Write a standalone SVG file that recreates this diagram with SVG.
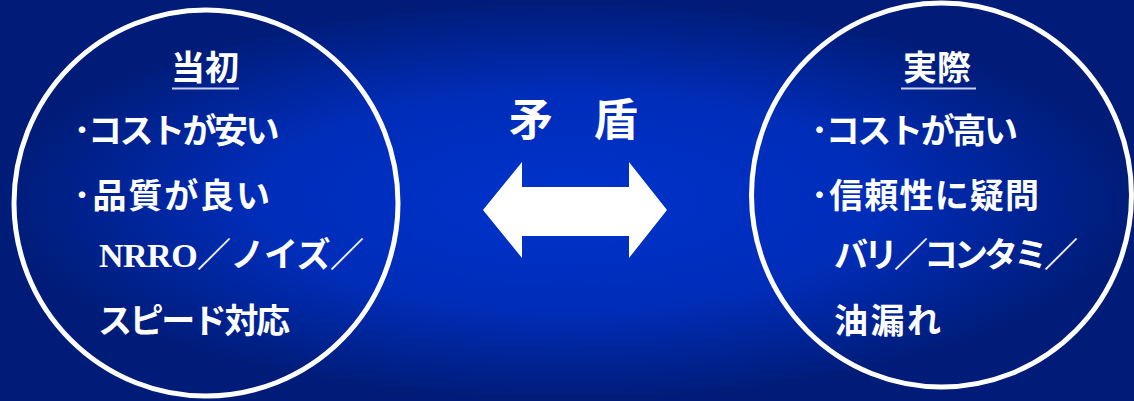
<svg xmlns="http://www.w3.org/2000/svg" width="1134" height="401" viewBox="0 0 1134 401">
  <defs>
    <radialGradient id="bg" cx="0.5" cy="0.5" r="0.5" gradientUnits="objectBoundingBox">
      <stop offset="0" stop-color="#0033cc"/>
      <stop offset="0.55" stop-color="#002db8"/>
      <stop offset="1" stop-color="#001c78"/>
    </radialGradient>
  </defs>
  <style>
    .ring { fill: none; stroke: #ffffff; stroke-width: 5; }
    .jp { font-family: "Noto Sans CJK JP", "Noto Sans", sans-serif; font-weight: bold; fill: #ffffff; }
    .body { font-size: 34px; }
    .title { font-size: 34px; }
    .big { font-size: 44px; }
    .serif { font-family: "Liberation Serif", serif; font-weight: bold; font-size: 34px; }
    .ul { stroke: #c8d2f5; stroke-width: 2; }
  </style>
  <rect x="0" y="0" width="1134" height="401" fill="url(#bg)"/>

  <g id="initial">
    <ellipse class="ring" cx="206" cy="203" rx="192" ry="193"/>
    <text class="jp title" x="205" y="80" text-anchor="middle">当初</text>
    <line class="ul" x1="172" y1="88.5" x2="239" y2="88.5"/>
    <text class="jp body" x="73.5" y="143" textLength="206" lengthAdjust="spacing">･コストが安い</text>
    <text class="jp body" x="73.5" y="207.5" textLength="196.5" lengthAdjust="spacing">･品質が良い</text>
    <text class="jp body" x="99" y="267" textLength="265" lengthAdjust="spacing"><tspan class="serif">NRRO</tspan>／ノイズ／</text>
    <text class="jp body" x="98" y="333" textLength="192" lengthAdjust="spacing">スピード対応</text>
  </g>

  <g id="conflict">
    <text class="jp big" x="531" y="136" text-anchor="middle">矛</text>
    <text class="jp big" x="616" y="136" text-anchor="middle">盾</text>
  </g>

  <g id="connectors">
    <polygon fill="#ffffff" points="483,210 522,162 522,187 629,187 629,162 667,210 629,258 629,236 522,236 522,258"/>
  </g>

  <g id="actual">
    <ellipse class="ring" cx="941.5" cy="195" rx="190" ry="192"/>
    <text class="jp title" x="937" y="80" text-anchor="middle">実際</text>
    <line class="ul" x1="901" y1="88.5" x2="976" y2="88.5"/>
    <text class="jp body" x="811" y="143" textLength="207" lengthAdjust="spacing">･コストが高い</text>
    <text class="jp body" x="811" y="207.5" textLength="228" lengthAdjust="spacing">･信頼性に疑問</text>
    <text class="jp body" x="834" y="267" textLength="244" lengthAdjust="spacing">バリ／コンタミ／</text>
    <text class="jp body" x="834" y="333" textLength="107" lengthAdjust="spacing">油漏れ</text>
  </g>
</svg>
